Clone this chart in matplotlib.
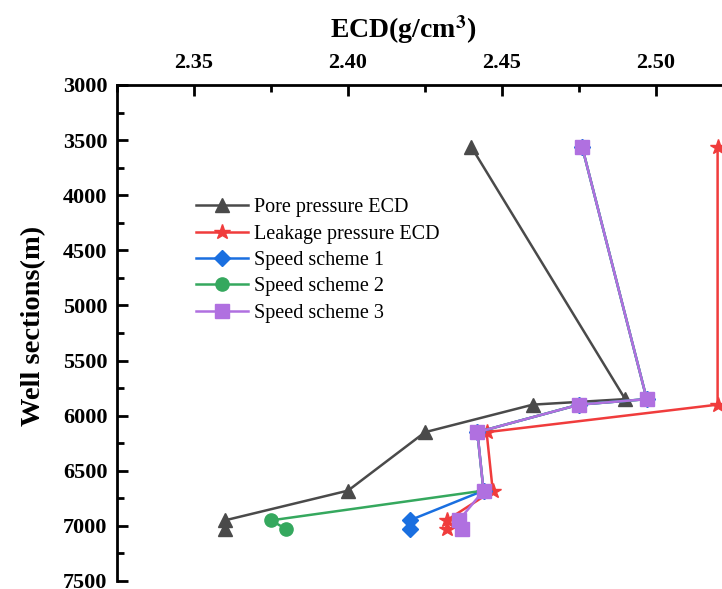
import matplotlib
matplotlib.use("Agg")
import matplotlib.pyplot as plt
from matplotlib.ticker import MultipleLocator

# Data
pore_depth = [3560, 5850, 5900, 6150, 6680, 6950, 7030]
pore_ecd = [2.440, 2.490, 2.460, 2.425, 2.400, 2.360, 2.360]

leak_depth = [3560, 5900, 6150, 6680, 6950, 7030]
leak_ecd = [2.520, 2.520, 2.445, 2.447, 2.432, 2.432]

scheme_depth = [3560, 5850, 5900, 6150, 6680, 6950, 7030]
scheme1_ecd = [2.476, 2.497, 2.475, 2.442, 2.444, 2.420, 2.420]
scheme2_ecd = [2.476, 2.497, 2.475, 2.442, 2.444, 2.375, 2.380]
scheme3_ecd = [2.476, 2.497, 2.475, 2.442, 2.444, 2.436, 2.437]

xticks = [2.35, 2.40, 2.45, 2.50]
yticks = [3000, 3500, 4000, 4500, 5000, 5500, 6000, 6500, 7000, 7500]

plt.rcParams['font.family'] = ['Liberation Serif', 'DejaVu Serif']
plt.rcParams['mathtext.fontset'] = 'stix'

W, H = 722, 589
fig = plt.figure(figsize=(W / 100, H / 100), dpi=100)
left_px, top_px, bottom_px = 117, 85, 581
x0, x1 = 2.325, 2.55
px_per_unit = 154 / 0.05
right_px = 194 + (x1 - 2.35) * px_per_unit
axw = right_px - left_px
axh = bottom_px - top_px
ax = fig.add_axes([left_px / W, 1 - bottom_px / H, axw / W, axh / H])

lw = 1.8
ax.plot(pore_ecd, pore_depth, color='#4a4a4a', lw=lw, marker='^', ms=9.5, label='Pore pressure ECD')
ax.plot(leak_ecd, leak_depth, color='#f03c3c', lw=lw, marker='*', ms=11.5, label='Leakage pressure ECD')
ax.plot(scheme1_ecd, scheme_depth, color='#1a6fe0', lw=lw, marker='D', ms=8.5, label='Speed scheme 1')
ax.plot(scheme2_ecd, scheme_depth, color='#35a85e', lw=lw, marker='o', ms=9.5, label='Speed scheme 2')
ax.plot(scheme3_ecd, scheme_depth, color='#b070e0', lw=lw, marker='s', ms=9.5, label='Speed scheme 3')

ax.set_xlim(x0, x1)
ax.set_ylim(7500, 3000)
ax.xaxis.tick_top()
ax.xaxis.set_label_position('top')
ax.set_xticks(xticks)
ax.set_xticklabels([f"{v:.2f}" for v in xticks])
ax.set_yticks(yticks)
ax.xaxis.set_minor_locator(MultipleLocator(0.025))
ax.yaxis.set_minor_locator(MultipleLocator(250))
ax.tick_params(which='major', direction='in', length=8, width=2, labelsize=16, pad=7)
ax.tick_params(which='minor', direction='in', length=5, width=2)
ax.tick_params(axis='x', which='both', top=True, bottom=False, pad=9)
for lab in ax.get_xticklabels() + ax.get_yticklabels():
    lab.set_fontweight('bold')
for s in ['left', 'top']:
    ax.spines[s].set_linewidth(2)
ax.spines['bottom'].set_visible(False)
ax.spines['right'].set_visible(False)

ax.set_xlabel('ECD(g/cm$^\\mathbf{3}$)', fontsize=20, fontweight='bold')
ax.set_ylabel('Well sections(m)', fontsize=20.5, fontweight='bold')
ax.xaxis.set_label_coords((403 - left_px) / axw, (bottom_px - 38) / axh)
ax.yaxis.set_label_coords((46 - left_px) / axw, (bottom_px - 326) / axh)

leg = fig.legend(loc='upper left', bbox_to_anchor=(178 / W, 1 - 180 / H), frameon=False,
                 fontsize=14.5, handlelength=2.6, labelspacing=0.36, handletextpad=0.25)

fig.savefig('out.png', dpi=100)
